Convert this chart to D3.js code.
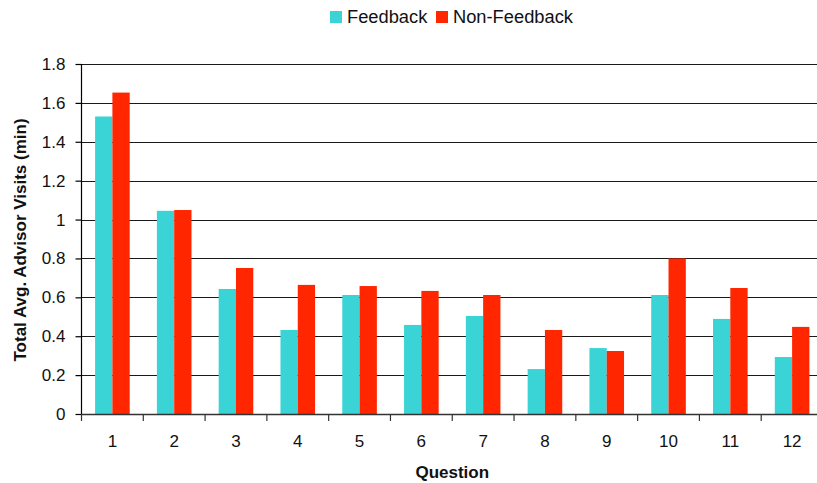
<!DOCTYPE html>
<html>
<head>
<meta charset="utf-8">
<script src="https://cdn.jsdelivr.net/npm/d3@7"></script>
<style>
  html, body { margin: 0; padding: 0; background: #fff; }
  svg { display: block; font-family: "Liberation Sans", Arial, sans-serif; }
</style>
</head>
<body>
<svg id="chart" width="817" height="483"></svg>
<script>
// Average advisor visit time per question, split by group
const questions = ["1", "2", "3", "4", "5", "6", "7", "8", "9", "10", "11", "12"];
const seriesNames = ["Feedback", "Non-Feedback"];
const feedback    = [1.53, 1.045, 0.643, 0.432, 0.612, 0.458, 0.504, 0.231, 0.339, 0.612, 0.489, 0.293];
const nonFeedback = [1.653, 1.049, 0.751, 0.664, 0.658, 0.633, 0.612, 0.432, 0.324, 0.80, 0.648, 0.448];
const yTicks = [0, 0.2, 0.4, 0.6, 0.8, 1, 1.2, 1.4, 1.6, 1.8];

const colors = { "Feedback": "#3AD4D6", "Non-Feedback": "#FF2600" };

const svg = d3.select("#chart");
const plotLeft = 81.5, plotRight = 823, plotTop = 64, plotBottom = 414;

const x = d3.scaleBand().domain(questions).range([plotLeft, plotRight]).paddingInner(0).paddingOuter(0);
const x1 = d3.scaleBand().domain(seriesNames).range([x.bandwidth() * 0.22, x.bandwidth() * 0.78]);
const y = d3.scaleLinear().domain([0, 1.8]).range([plotBottom, plotTop]);

// horizontal gridlines
svg.append("g")
  .selectAll("line")
  .data(yTicks.filter(d => d > 0))
  .join("line")
  .attr("x1", plotLeft).attr("x2", plotRight)
  .attr("y1", d => Math.round(y(d)) + 0.5).attr("y2", d => Math.round(y(d)) + 0.5)
  .attr("stroke", "#1a1a1a").attr("stroke-width", 1.2);

// bars
const rows = questions.map((q, i) => ({ q, values: [
  { s: "Feedback", v: feedback[i] },
  { s: "Non-Feedback", v: nonFeedback[i] }
]}));

svg.append("g")
  .selectAll("g")
  .data(rows)
  .join("g")
  .attr("transform", d => `translate(${x(d.q)},0)`)
  .selectAll("rect")
  .data(d => d.values)
  .join("rect")
  .attr("x", d => x1(d.s))
  .attr("width", x1.bandwidth())
  .attr("y", d => y(d.v))
  .attr("height", d => y(0) - y(d.v))
  .attr("fill", d => colors[d.s]);

// y axis
const yAxis = svg.append("g")
  .attr("transform", `translate(${plotLeft},0)`)
  .call(d3.axisLeft(y).tickValues(yTicks).tickFormat(d3.format("~g")).tickSize(6).tickPadding(10));
yAxis.select(".domain").attr("stroke", "#000").attr("stroke-width", 1.2).attr("d", `M0,${plotTop}V${plotBottom}`);
yAxis.selectAll(".tick line").attr("stroke", "#000").attr("stroke-width", 1.2);
yAxis.selectAll(".tick text").attr("font-size", 17).attr("fill", "#111")
  .attr("font-family", "Liberation Sans, Arial, sans-serif");

// x axis: ticks sit on category boundaries
const xAxisG = svg.append("g").attr("transform", `translate(0,${plotBottom})`);
xAxisG.append("line")
  .attr("x1", plotLeft).attr("x2", plotRight).attr("y1", 0.5).attr("y2", 0.5)
  .attr("stroke", "#333").attr("stroke-width", 1.5);
const boundaries = questions.map(q => x(q)).concat([x(questions[questions.length - 1]) + x.bandwidth()]);
xAxisG.selectAll("line.tk")
  .data(boundaries)
  .join("line")
  .attr("class", "tk")
  .attr("x1", d => d).attr("x2", d => d)
  .attr("y1", 0).attr("y2", 7)
  .attr("stroke", "#333").attr("stroke-width", 1.2);
xAxisG.selectAll("text")
  .data(questions)
  .join("text")
  .attr("x", d => x(d) + x.bandwidth() / 2)
  .attr("y", 33)
  .attr("text-anchor", "middle")
  .attr("font-size", 17)
  .attr("fill", "#111")
  .text(d => d);

// axis titles
svg.append("text")
  .attr("x", (plotLeft + plotRight) / 2)
  .attr("y", 478)
  .attr("text-anchor", "middle")
  .attr("font-size", 17)
  .attr("font-weight", "bold")
  .attr("fill", "#111")
  .text("Question");

svg.append("text")
  .attr("transform", `translate(26,${(plotTop + plotBottom) / 2 + 1}) rotate(-90)`)
  .attr("text-anchor", "middle")
  .attr("font-size", 17)
  .attr("font-weight", "bold")
  .attr("fill", "#111")
  .text("Total Avg. Advisor Visits (min)");

// legend
const legend = svg.append("g");
const legendX = [330, 436];
seriesNames.forEach((s, i) => {
  legend.append("rect")
    .attr("x", legendX[i]).attr("y", 11)
    .attr("width", 12).attr("height", 12)
    .attr("fill", colors[s]);
  legend.append("text")
    .attr("x", legendX[i] + 17).attr("y", 22.5)
    .attr("font-size", 18.3)
    .attr("fill", "#111")
    .text(s);
});
</script>
</body>
</html>
